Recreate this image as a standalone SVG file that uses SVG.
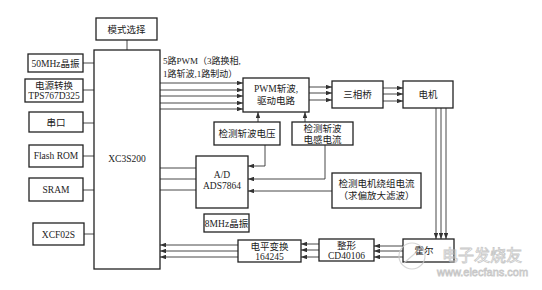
<svg xmlns="http://www.w3.org/2000/svg" width="542" height="290" viewBox="0 0 542 290">
<defs>
<style>
.box{fill:#fff;stroke:#222;stroke-width:1.3}
.ln{fill:none;stroke:#333;stroke-width:0.9}
.t{font-family:"Liberation Serif","Noto Sans CJK SC",serif;font-size:9.5px;fill:#222;text-anchor:middle}
.tl{font-family:"Liberation Serif","Noto Sans CJK SC",serif;font-size:9px;fill:#222}
.wm{font-family:"Liberation Sans","Noto Sans CJK SC",sans-serif;fill:none;stroke:#bbb;stroke-width:0.8}
</style>
<marker id="ar" viewBox="0 0 8 6" refX="8" refY="3" markerWidth="6" markerHeight="4.5" orient="auto" markerUnits="userSpaceOnUse">
<path d="M0,0 L8,3 L0,6 z" fill="#333"/>
</marker>
</defs>
<rect width="542" height="290" fill="#fff"/>

<g id="connectors">
<path class="ln" d="M127,40 V50"/>
<path class="ln" d="M83,63 H94"/>
<path class="ln" d="M83,90 H94"/>
<path class="ln" d="M83,123 H94"/>
<path class="ln" d="M83,156 H94"/>
<path class="ln" d="M83,190 H94"/>
<path class="ln" d="M84,234 H94"/>
<path class="ln" marker-end="url(#ar)" d="M160,83 H243"/>
<path class="ln" marker-end="url(#ar)" d="M160,90 H243"/>
<path class="ln" marker-end="url(#ar)" d="M160,96 H243"/>
<path class="ln" marker-end="url(#ar)" d="M160,103 H243"/>
<path class="ln" marker-end="url(#ar)" d="M160,109 H243"/>
<path class="ln" marker-end="url(#ar)" d="M309,87 H332"/>
<path class="ln" marker-end="url(#ar)" d="M309,93 H332"/>
<path class="ln" marker-end="url(#ar)" d="M309,100 H332"/>
<path class="ln" marker-end="url(#ar)" d="M383,88 H403"/>
<path class="ln" marker-end="url(#ar)" d="M383,94 H403"/>
<path class="ln" marker-end="url(#ar)" d="M383,101 H403"/>
<path class="ln" marker-end="url(#ar)" d="M258,122 V112"/>
<path class="ln" marker-end="url(#ar)" d="M305,122 V112"/>
<path class="ln" marker-end="url(#ar)" d="M265,145 V166 H248"/>
<path class="ln" marker-end="url(#ar)" d="M325,145 V179 H248"/>
<path class="ln" marker-end="url(#ar)" d="M332,191 H248"/>
<path class="ln" d="M196,168 H160"/>
<path class="ln" d="M196,179 H160"/>
<path class="ln" d="M196,190 H160"/>
<path class="ln" marker-end="url(#ar)" d="M436,108 V239"/>
<path class="ln" marker-end="url(#ar)" d="M441,108 V239"/>
<path class="ln" marker-end="url(#ar)" d="M446,108 V239"/>
<path class="ln" marker-end="url(#ar)" d="M403,246 H374"/>
<path class="ln" marker-end="url(#ar)" d="M403,251 H374"/>
<path class="ln" marker-end="url(#ar)" d="M403,257 H374"/>
<path class="ln" marker-end="url(#ar)" d="M319,244 H301"/>
<path class="ln" marker-end="url(#ar)" d="M319,250 H301"/>
<path class="ln" marker-end="url(#ar)" d="M319,257 H301"/>
<path class="ln" marker-end="url(#ar)" d="M238,245 H160"/>
<path class="ln" marker-end="url(#ar)" d="M238,251 H160"/>
<path class="ln" marker-end="url(#ar)" d="M238,257 H160"/>
</g>

<text class="tl" x="163" y="64">5路PWM（3路换相,</text>
<text class="tl" x="163" y="77">1路斩波,1路制动）</text>

<g id="mode"><rect class="box" x="96" y="18" width="61" height="22"/><text class="t" x="126.5" y="32.5">模式选择</text></g>
<g id="fpga"><rect class="box" x="94" y="50" width="66" height="219"/><text class="t" x="127" y="162">XC3S200</text></g>
<g id="osc50"><rect class="box" x="28" y="54" width="55" height="18"/><text class="t" x="55.5" y="66.5">50MHz晶振</text></g>
<g id="power"><rect class="box" x="25" y="79" width="58" height="23"/><text class="t" x="54" y="89">电源转换</text><text class="t" x="54" y="99">TPS767D325</text></g>
<g id="uart"><rect class="box" x="29" y="112" width="54" height="20"/><text class="t" x="56" y="125.5">串口</text></g>
<g id="flash"><rect class="box" x="29" y="145" width="54" height="22"/><text class="t" x="56" y="159">Flash ROM</text></g>
<g id="sram"><rect class="box" x="29" y="178" width="54" height="23"/><text class="t" x="56" y="193">SRAM</text></g>
<g id="xcf"><rect class="box" x="33" y="223" width="51" height="22"/><text class="t" x="58.5" y="237.5">XCF02S</text></g>
<g id="pwm"><rect class="box" x="243" y="78" width="66" height="34"/><text class="t" x="276" y="92">PWM斩波,</text><text class="t" x="276" y="104">驱动电路</text></g>
<g id="bridge"><rect class="box" x="332" y="81" width="51" height="27"/><text class="t" x="357.5" y="98">三相桥</text></g>
<g id="motor"><rect class="box" x="403" y="81" width="50" height="27"/><text class="t" x="428" y="98">电机</text></g>
<g id="vdet"><rect class="box" x="214" y="122" width="66" height="23"/><text class="t" x="247" y="137">检测斩波电压</text></g>
<g id="idet"><rect class="box" x="292" y="122" width="61" height="23"/><text class="t" x="322.5" y="132">检测斩波</text><text class="t" x="322.5" y="142.5">电感电流</text></g>
<g id="adc"><rect class="box" x="196" y="156" width="52" height="52"/><text class="t" x="222" y="178">A/D</text><text class="t" x="222" y="189">ADS7864</text></g>
<g id="wdet"><rect class="box" x="332" y="173" width="89" height="35"/><text class="t" x="376.5" y="187">检测电机绕组电流</text><text class="t" x="376.5" y="199">（求偏放大滤波）</text></g>
<g id="osc8"><rect class="box" x="204" y="214" width="45" height="18"/><text class="t" x="226.5" y="226.5">8MHz晶振</text></g>
<g id="level"><rect class="box" x="238" y="240" width="63" height="22"/><text class="t" x="269.5" y="250">电平变换</text><text class="t" x="269.5" y="260">164245</text></g>
<g id="shape"><rect class="box" x="319" y="239" width="55" height="22"/><text class="t" x="346.5" y="249">整形</text><text class="t" x="346.5" y="259">CD40106</text></g>
<g id="hall"><rect class="box" x="403" y="239" width="51" height="23"/><text class="t" x="424" y="254">霍尔</text></g>

<g id="watermark" opacity="0.8">
<circle cx="412" cy="256" r="13" fill="none" stroke="#ccc" stroke-width="1.2"/>
<path d="M404,263 L420,249" stroke="#ccc" stroke-width="1.2"/>
<text class="wm" x="442" y="261" font-size="16">电子发烧友</text>
<text class="wm" x="437" y="276" font-size="11">www.elecfans.com</text>
</g>
</svg>
